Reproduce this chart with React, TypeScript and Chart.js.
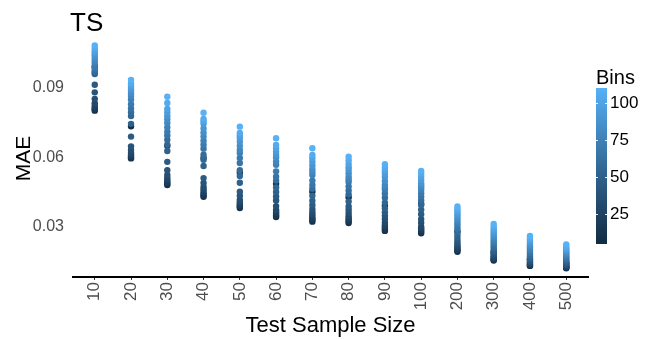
import React, { useEffect, useRef } from "react";
import { Chart, registerables } from "chart.js";

Chart.register(...registerables);

const FONT = "'Liberation Sans', Arial, Helvetica, sans-serif";

const sampleSizes = ["10", "20", "30", "40", "50", "60", "70", "80", "90", "100", "200", "300", "400", "500"];
const bins = [5, 10, 15, 20, 25, 30, 35, 40, 45, 50, 55, 60, 65, 70, 75, 80, 85, 90, 95, 100, 105, 110];

const mae10 = [0.0994, 0.0802, 0.0808, 0.0814, 0.0822, 0.0834, 0.0853, 0.0881, 0.0914, 0.096, 0.0966, 0.0972, 0.0983, 0.099, 0.1008, 0.1018, 0.103, 0.1041, 0.1051, 0.1061, 0.1073, 0.1084];
const mae20 = [0.0735, 0.0596, 0.06, 0.0606, 0.0612, 0.062, 0.0632, 0.0648, 0.069, 0.0745, 0.0779, 0.0795, 0.0811, 0.083, 0.085, 0.0865, 0.0877, 0.089, 0.09, 0.091, 0.0919, 0.0935];
const mae30 = [0.065, 0.0481, 0.0487, 0.0494, 0.0503, 0.0512, 0.0524, 0.0545, 0.0581, 0.0628, 0.0655, 0.0676, 0.0695, 0.0711, 0.073, 0.0749, 0.0765, 0.0779, 0.0795, 0.0809, 0.0835, 0.0862];
const mae40 = [0.0598, 0.043, 0.0436, 0.0443, 0.0451, 0.0462, 0.0473, 0.049, 0.0511, 0.0563, 0.059, 0.0612, 0.0638, 0.0655, 0.0672, 0.069, 0.0707, 0.0725, 0.0745, 0.0756, 0.0766, 0.0793];
const mae50 = [0.0534, 0.0382, 0.0388, 0.0394, 0.04, 0.0408, 0.0417, 0.0435, 0.0452, 0.0491, 0.052, 0.0545, 0.0576, 0.0598, 0.0619, 0.0632, 0.065, 0.0668, 0.0684, 0.0695, 0.0706, 0.0733];
const mae60 = [0.0486, 0.0343, 0.035, 0.0358, 0.0366, 0.0373, 0.039, 0.0414, 0.0432, 0.0451, 0.047, 0.05, 0.0517, 0.054, 0.0568, 0.0582, 0.06, 0.0612, 0.0625, 0.064, 0.0654, 0.0683];
const mae70 = [0.0452, 0.0323, 0.033, 0.0337, 0.0344, 0.0355, 0.0365, 0.0378, 0.0395, 0.0413, 0.0435, 0.0465, 0.0481, 0.05, 0.0524, 0.0537, 0.0549, 0.0565, 0.0582, 0.0597, 0.0611, 0.064];
const mae80 = [0.0428, 0.0317, 0.0324, 0.0331, 0.0339, 0.0348, 0.036, 0.0374, 0.0388, 0.041, 0.044, 0.0457, 0.0475, 0.0494, 0.0505, 0.0517, 0.0532, 0.0546, 0.0558, 0.0572, 0.0588, 0.0603];
const mae90 = [0.0392, 0.0283, 0.029, 0.0298, 0.0306, 0.0318, 0.0334, 0.0348, 0.0363, 0.038, 0.0405, 0.0426, 0.0444, 0.0461, 0.047, 0.0481, 0.0498, 0.0516, 0.053, 0.0542, 0.0556, 0.0571];
const mae100 = [0.04, 0.0273, 0.028, 0.0287, 0.0294, 0.0301, 0.0318, 0.0334, 0.0355, 0.0375, 0.0395, 0.0415, 0.0431, 0.0445, 0.046, 0.047, 0.048, 0.0489, 0.0503, 0.0517, 0.053, 0.0542];
const mae200 = [0.028, 0.0193, 0.0198, 0.0203, 0.0209, 0.0216, 0.0224, 0.0234, 0.0245, 0.0258, 0.027, 0.0282, 0.0294, 0.0305, 0.0316, 0.0327, 0.0338, 0.0349, 0.0358, 0.0368, 0.0378, 0.0388];
const mae300 = [0.019, 0.0155, 0.0158, 0.0162, 0.0166, 0.0171, 0.0177, 0.0184, 0.0192, 0.02, 0.0209, 0.0218, 0.0227, 0.0236, 0.0245, 0.0254, 0.0263, 0.0272, 0.0281, 0.029, 0.0301, 0.0313];
const mae400 = [0.016, 0.0132, 0.0134, 0.0137, 0.014, 0.0144, 0.0148, 0.0153, 0.0159, 0.0165, 0.0172, 0.018, 0.0188, 0.0196, 0.0204, 0.0212, 0.022, 0.0228, 0.0236, 0.0244, 0.0252, 0.0261];
const mae500 = [0.0145, 0.0122, 0.0124, 0.0126, 0.0129, 0.0132, 0.0135, 0.0139, 0.0143, 0.0148, 0.0154, 0.016, 0.0166, 0.0172, 0.0178, 0.0184, 0.019, 0.0196, 0.0202, 0.0208, 0.0216, 0.0225];

const maeBySize = [mae10, mae20, mae30, mae40, mae50, mae60, mae70, mae80, mae90, mae100, mae200, mae300, mae400, mae500];

const yTicks = [0.03, 0.06, 0.09];
const legendTicks = [25, 50, 75, 100];

const LOW = "#132B43";
const HIGH = "#56B1F7";

// --- Lab interpolation (like ggplot's seq_gradient_pal) ---
function hexToRgb(h: string) {
  return [parseInt(h.slice(1, 3), 16), parseInt(h.slice(3, 5), 16), parseInt(h.slice(5, 7), 16)];
}
function toLin(c: number) {
  c /= 255;
  return c <= 0.04045 ? c / 12.92 : Math.pow((c + 0.055) / 1.055, 2.4);
}
function fromLin(c: number) {
  const v = c <= 0.0031308 ? 12.92 * c : 1.055 * Math.pow(c, 1 / 2.4) - 0.055;
  return Math.max(0, Math.min(255, Math.round(v * 255)));
}
const Xn = 0.95047, Yn = 1.0, Zn = 1.08883;
function f(t: number) {
  return t > 0.008856 ? Math.cbrt(t) : 7.787 * t + 16 / 116;
}
function finv(t: number) {
  return t > 0.206893 ? t * t * t : (t - 16 / 116) / 7.787;
}
function rgbToLab(rgb: number[]) {
  const [r, g, b] = rgb.map(toLin);
  const x = r * 0.4124 + g * 0.3576 + b * 0.1805;
  const y = r * 0.2126 + g * 0.7152 + b * 0.0722;
  const z = r * 0.0193 + g * 0.1192 + b * 0.9505;
  const fx = f(x / Xn), fy = f(y / Yn), fz = f(z / Zn);
  return [116 * fy - 16, 500 * (fx - fy), 200 * (fy - fz)];
}
function labToRgb(lab: number[]) {
  const fy = (lab[0] + 16) / 116;
  const fx = fy + lab[1] / 500;
  const fz = fy - lab[2] / 200;
  const x = finv(fx) * Xn, y = finv(fy) * Yn, z = finv(fz) * Zn;
  const r = x * 3.2406 + y * -1.5372 + z * -0.4986;
  const g = x * -0.9689 + y * 1.8758 + z * 0.0415;
  const b = x * 0.0557 + y * -0.204 + z * 1.057;
  return `rgb(${fromLin(r)},${fromLin(g)},${fromLin(b)})`;
}
const labLow = rgbToLab(hexToRgb(LOW));
const labHigh = rgbToLab(hexToRgb(HIGH));
function colorAt(t: number) {
  const c = labLow.map((v, i) => v + (labHigh[i] - v) * t);
  return labToRgb(c);
}
const binMin = Math.min(...bins);
const binMax = Math.max(...bins);
function binColor(b: number) {
  return colorAt((b - binMin) / (binMax - binMin));
}

const overlayPlugin = {
  id: "overlay",
  afterDraw(chart: any) {
    const ctx = chart.ctx as CanvasRenderingContext2D;
    ctx.save();
    // panel title
    ctx.fillStyle = "#000";
    ctx.font = `26px ${FONT}`;
    ctx.textAlign = "left";
    ctx.textBaseline = "alphabetic";
    ctx.fillText("TS", 70, 31);

    // colour bar
    const bx = 596, bw = 11, top = 88, bottom = 244;
    const grad = ctx.createLinearGradient(0, bottom, 0, top);
    for (let i = 0; i <= 20; i++) grad.addColorStop(i / 20, colorAt(i / 20));
    ctx.fillStyle = grad;
    ctx.fillRect(bx, top, bw, bottom - top);
    ctx.font = `20px ${FONT}`;
    ctx.fillStyle = "#000";
    ctx.fillText("Bins", 596, 84);
    ctx.font = `17px ${FONT}`;
    ctx.textBaseline = "middle";
    ctx.strokeStyle = "rgba(255,255,255,0.9)";
    ctx.lineWidth = 1;
    for (const t of legendTicks) {
      const y = Math.round(bottom - ((t - binMin) / (binMax - binMin)) * (bottom - top)) + 0.5;
      ctx.beginPath();
      ctx.moveTo(bx, y);
      ctx.lineTo(bx + 2, y);
      ctx.moveTo(bx + bw - 2, y);
      ctx.lineTo(bx + bw, y);
      ctx.stroke();
      ctx.fillStyle = "#000";
      ctx.fillText(String(t), 610, y);
    }
    ctx.restore();
  },
};

export default function App() {
  const ref = useRef<HTMLCanvasElement | null>(null);
  useEffect(() => {
    if (!ref.current) return;
    const chart = new Chart(ref.current, {
      type: "scatter",
      data: {
        datasets: maeBySize.map((vals, i) => ({
          label: sampleSizes[i],
          data: vals.map((v) => ({ x: i, y: v })),
          pointBackgroundColor: bins.map(binColor),
          pointBorderWidth: 0,
          pointRadius: 3.2,
          pointHoverRadius: 3.2,
        })),
      },
      options: {
        responsive: false,
        animation: false,
        layout: { padding: { left: 0, right: 65, top: 40, bottom: 0 } },
        plugins: {
          legend: { display: false },
          tooltip: { enabled: false },
          title: { display: false },
        },
        scales: {
          x: {
            type: "linear",
            min: -0.6,
            max: 13.6,
            afterBuildTicks: (s: any) => {
              s.ticks = sampleSizes.map((_, i) => ({ value: i }));
            },
            afterFit: (s: any) => {
              s.height = 62;
            },
            ticks: {
              autoSkip: false,
              minRotation: 90,
              maxRotation: 90,
              color: "#4D4D4D",
              font: { size: 17, family: FONT },
              padding: 2,
              callback: (v: any) => sampleSizes[v] ?? "",
            },
            grid: { display: true, drawOnChartArea: false, drawTicks: true, tickLength: 3, color: "#333" },
            border: { display: true, color: "#000", width: 2 },
            title: { display: true, text: "Test Sample Size", color: "#000", font: { size: 22, family: FONT }, padding: 0 },
          },
          y: {
            type: "linear",
            min: 0.0084,
            max: 0.1107,
            afterBuildTicks: (s: any) => {
              s.ticks = yTicks.map((v) => ({ value: v }));
            },
            afterFit: (s: any) => {
              s.width = 73;
            },
            ticks: {
              color: "#4D4D4D",
              font: { size: 16, family: FONT },
              padding: 1,
              callback: (v: any) => Number(v).toFixed(2),
            },
            grid: { display: false },
            border: { display: false },
            title: { display: true, text: "MAE", color: "#000", font: { size: 21, family: FONT }, padding: { top: 12, bottom: 0 } },
          },
        },
      } as any,
      plugins: [overlayPlugin],
    });
    return () => chart.destroy();
  }, []);
  return (
    <div style={{ position: "fixed", left: 0, top: 0, width: 653, height: 339, background: "#fff" }}>
      <canvas ref={ref} width={653} height={339} style={{ width: 653, height: 339 }} />
    </div>
  );
}
